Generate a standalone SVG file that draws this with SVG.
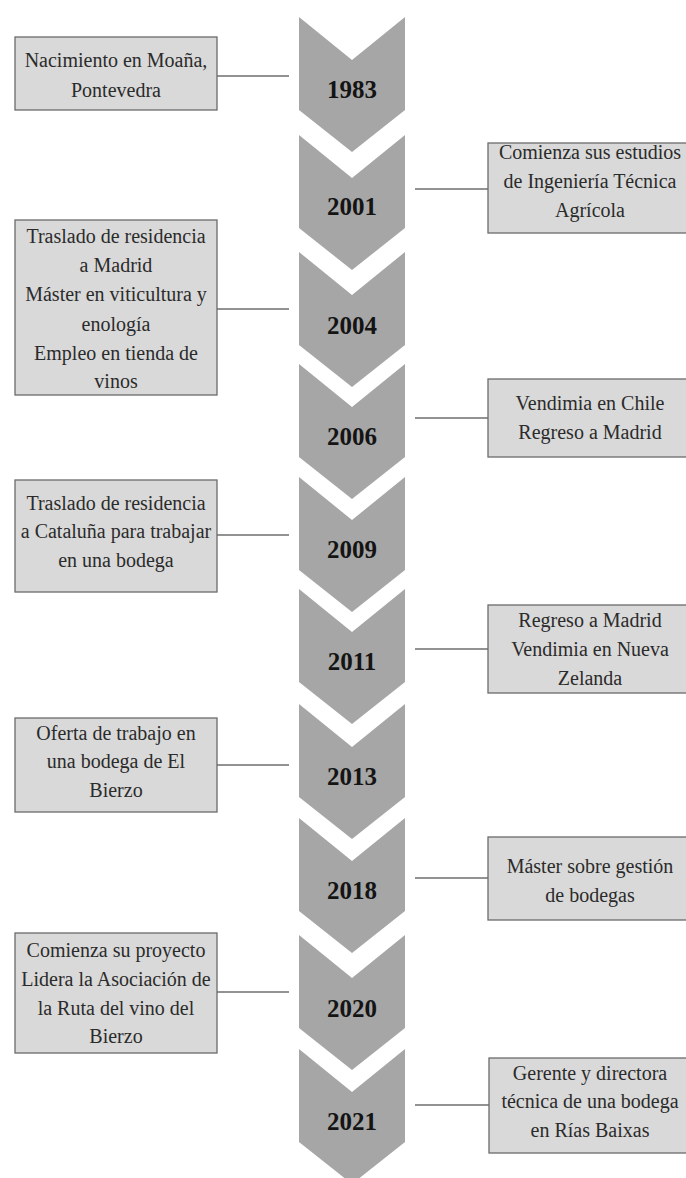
<svg xmlns="http://www.w3.org/2000/svg" xmlns:xlink="http://www.w3.org/1999/xlink" width="686" height="1178" viewBox="0 0 686 1178">
  <style>
    .chev { fill: #a6a6a6; }
    .year { font-family: "Liberation Serif", "Times New Roman", serif; font-weight: bold; font-size: 25px; fill: #141414; text-anchor: middle; }
    .box { fill: #d9d9d9; stroke: #6b6b6b; stroke-width: 1.3; }
    .label { font-family: "Liberation Serif", "Times New Roman", serif; font-size: 20px; fill: #2b2b2b; text-anchor: middle; }
    .conn line { stroke: #6e6e6e; stroke-width: 1.3; }
  </style>
  <defs>
    <!-- downward chevron, top edge at y=0 -->
    <path id="chevron" d="M299,0 L352,43 L405,0 L405,93 L352,135 L299,93 Z"/>
  </defs>
  <rect width="686" height="1178" fill="#ffffff"/>

  <!-- timeline chevrons -->
  <g id="y1983"><use xlink:href="#chevron" class="chev" transform="translate(0,17)"/><text class="year" x="352" y="98">1983</text></g>
  <g id="y2001"><use xlink:href="#chevron" class="chev" transform="translate(0,135)"/><text class="year" x="352" y="215">2001</text></g>
  <g id="y2004"><use xlink:href="#chevron" class="chev" transform="translate(0,252)"/><text class="year" x="352" y="334">2004</text></g>
  <g id="y2006"><use xlink:href="#chevron" class="chev" transform="translate(0,364)"/><text class="year" x="352" y="445">2006</text></g>
  <g id="y2009"><use xlink:href="#chevron" class="chev" transform="translate(0,477)"/><text class="year" x="352" y="558">2009</text></g>
  <g id="y2011"><use xlink:href="#chevron" class="chev" transform="translate(0,589)"/><text class="year" x="352" y="670">2011</text></g>
  <g id="y2013"><use xlink:href="#chevron" class="chev" transform="translate(0,704)"/><text class="year" x="352" y="785">2013</text></g>
  <g id="y2018"><use xlink:href="#chevron" class="chev" transform="translate(0,818)"/><text class="year" x="352" y="899">2018</text></g>
  <g id="y2020"><use xlink:href="#chevron" class="chev" transform="translate(0,935)"/><text class="year" x="352" y="1017">2020</text></g>
  <g id="y2021"><use xlink:href="#chevron" class="chev" transform="translate(0,1049)"/><text class="year" x="352" y="1130">2021</text></g>

  <!-- connectors between boxes and chevrons -->
  <g id="connectors" class="conn">
    <line x1="217" y1="76" x2="289" y2="76"/>
    <line x1="415" y1="189" x2="488" y2="189"/>
    <line x1="217" y1="309" x2="289" y2="309"/>
    <line x1="415" y1="418" x2="488" y2="418"/>
    <line x1="217" y1="535" x2="289" y2="535"/>
    <line x1="415" y1="649" x2="488" y2="649"/>
    <line x1="217" y1="765" x2="289" y2="765"/>
    <line x1="415" y1="878" x2="488" y2="878"/>
    <line x1="217" y1="992" x2="289" y2="992"/>
    <line x1="415" y1="1105" x2="489" y2="1105"/>
  </g>

  <!-- event boxes -->
  <g id="e1983">
    <rect class="box" x="15" y="37" width="202" height="73"/>
    <text class="label" x="116" y="67">Nacimiento en Moaña,</text>
    <text class="label" x="116" y="97">Pontevedra</text>
  </g>
  <g id="e2001">
    <rect class="box" x="488" y="143" width="200" height="90"/>
    <text class="label" x="590" y="159">Comienza sus estudios</text>
    <text class="label" x="590" y="188">de Ingeniería Técnica</text>
    <text class="label" x="590" y="217">Agrícola</text>
  </g>
  <g id="e2004">
    <rect class="box" x="15" y="220" width="202" height="175"/>
    <text class="label" x="116" y="243">Traslado de residencia</text>
    <text class="label" x="116" y="272">a Madrid</text>
    <text class="label" x="116" y="301">Máster en viticultura y</text>
    <text class="label" x="116" y="331">enología</text>
    <text class="label" x="116" y="360">Empleo en tienda de</text>
    <text class="label" x="116" y="388">vinos</text>
  </g>
  <g id="e2006">
    <rect class="box" x="488" y="379" width="200" height="78"/>
    <text class="label" x="590" y="410">Vendimia en Chile</text>
    <text class="label" x="590" y="439">Regreso a Madrid</text>
  </g>
  <g id="e2009">
    <rect class="box" x="15" y="480" width="202" height="112"/>
    <text class="label" x="116" y="510">Traslado de residencia</text>
    <text class="label" x="116" y="538">a Cataluña para trabajar</text>
    <text class="label" x="116" y="567">en una bodega</text>
  </g>
  <g id="e2011">
    <rect class="box" x="488" y="605" width="200" height="88"/>
    <text class="label" x="590" y="627">Regreso a Madrid</text>
    <text class="label" x="590" y="656">Vendimia en Nueva</text>
    <text class="label" x="590" y="685">Zelanda</text>
  </g>
  <g id="e2013">
    <rect class="box" x="15" y="718" width="202" height="94"/>
    <text class="label" x="116" y="740">Oferta de trabajo en</text>
    <text class="label" x="116" y="768">una bodega de El</text>
    <text class="label" x="116" y="797">Bierzo</text>
  </g>
  <g id="e2018">
    <rect class="box" x="488" y="837" width="200" height="83"/>
    <text class="label" x="590" y="873">Máster sobre gestión</text>
    <text class="label" x="590" y="902">de bodegas</text>
  </g>
  <g id="e2020">
    <rect class="box" x="15" y="933" width="202" height="120"/>
    <text class="label" x="116" y="957">Comienza su proyecto</text>
    <text class="label" x="116" y="986">Lidera la Asociación de</text>
    <text class="label" x="116" y="1015">la Ruta del vino del</text>
    <text class="label" x="116" y="1043">Bierzo</text>
  </g>
  <g id="e2021">
    <rect class="box" x="489" y="1058" width="200" height="95"/>
    <text class="label" x="590" y="1080">Gerente y directora</text>
    <text class="label" x="590" y="1108">técnica de una bodega</text>
    <text class="label" x="590" y="1137">en Rías Baixas</text>
  </g>
</svg>
